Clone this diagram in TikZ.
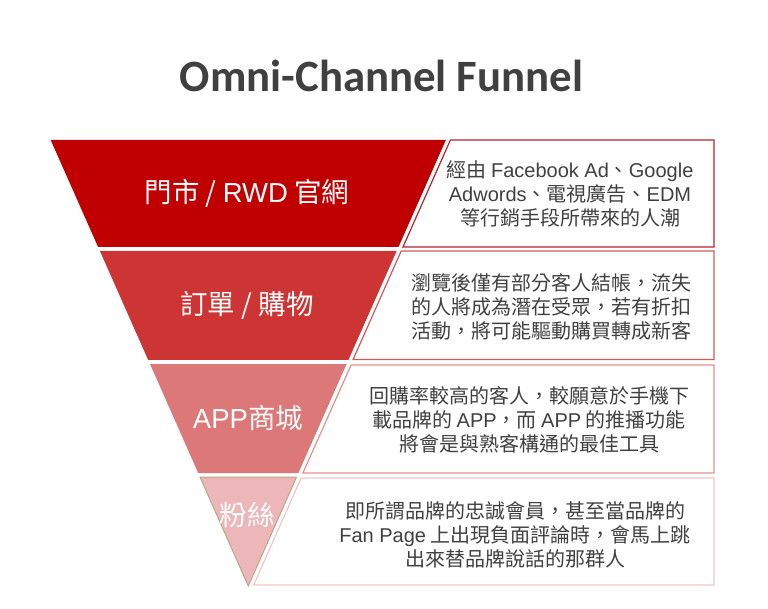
\documentclass[tikz,border=0pt]{standalone}
\usepackage{fontspec}
\setmainfont[Script=CJK, Language=Chinese Traditional]{Noto Sans CJK TC}
\newfontfamily\latinfont{Liberation Sans}
\newfontfamily\titlefont{Carlito}
\usepackage{xcolor}
\usepackage{tikz}

\definecolor{bandA}{HTML}{C00000}
\definecolor{bandB}{HTML}{CD3535}
\definecolor{bandC}{HTML}{DC7878}
\definecolor{bandD}{HTML}{EDB7BA}
\definecolor{bandDline}{HTML}{BBA68A}
\definecolor{boxA}{HTML}{B4232D}
\definecolor{boxB}{HTML}{D05A5A}
\definecolor{boxC}{HTML}{E09090}
\definecolor{boxD}{HTML}{F2C4C8}
\definecolor{textgray}{HTML}{404040}

\newcommand{\en}[1]{{\latinfont #1}}

\begin{document}
\begin{tikzpicture}[x=1pt, y=-1pt,
  frame/.style={line width=1.2pt},
  lbl/.style={text=white, font=\fontsize{27.5}{32}\selectfont},
  desc/.style={text=textgray, align=center, font=\fontsize{20}{24}\selectfont}]

  \useasboundingbox (0,0) rectangle (768,609);

  \node[text=textgray, font=\titlefont\bfseries\fontsize{44.8}{52}\selectfont] (title) at (381.5,76) {Omni-Channel Funnel};

  % funnel bands
  \fill[bandA] (50.7,140) -- (445.9,140) -- (398.5,247) -- (98.1,247) -- cycle;
  \fill[bandB] (99.9,251) -- (396.7,251) -- (348.4,360) -- (148.2,360) -- cycle;
  \fill[bandC] (150,364) -- (346.6,364) -- (298.4,473) -- (198.2,473) -- cycle;
  \filldraw[fill=bandD, draw=bandDline, line width=1pt] (200,477) -- (296.6,477) -- (248.3,586) -- cycle;

  % text boxes
  \draw[frame, draw=boxA] (450.4,140) -- (714,140) -- (714,247) -- (403,247) -- cycle;
  \draw[frame, draw=boxB] (401.2,251) -- (714,251) -- (714,359.5) -- (353.1,359.5) -- cycle;
  \draw[frame, draw=boxC] (351.1,365) -- (714,365) -- (714,473) -- (302.9,473) -- cycle;
  \draw[frame, draw=boxD] (301.1,478) -- (714,478) -- (714,585) -- (253.7,585) -- cycle;

  \node[lbl] (store) at (247,193) {門市 / \en{RWD} 官網};
  \node[lbl] (order) at (247,305) {訂單 / 購物};
  \node[lbl] (app)   at (248,418) {\en{APP}商城};
  \node[lbl] (fans)  at (247,515) {粉絲};

  \node[desc] (storetxt) at (570,194) {經由 \en{Facebook Ad}、\en{Google}\\\en{Adwords}、電視廣告、\en{EDM}\\等行銷手段所帶來的人潮};
  \node[desc] (ordertxt) at (551,307) {瀏覽後僅有部分客人結帳，流失\\的人將成為潛在受眾，若有折扣\\活動，將可能驅動購買轉成新客};
  \node[desc] (apptxt)   at (529,420) {回購率較高的客人，較願意於手機下\\載品牌的 \en{APP}，而 \en{APP} 的推播功能\\將會是與熟客構通的最佳工具};
  \node[desc] (fanstxt)  at (515,535) {即所謂品牌的忠誠會員，甚至當品牌的\\\en{Fan Page} 上出現負面評論時，會馬上跳\\出來替品牌說話的那群人};

\end{tikzpicture}
\end{document}
